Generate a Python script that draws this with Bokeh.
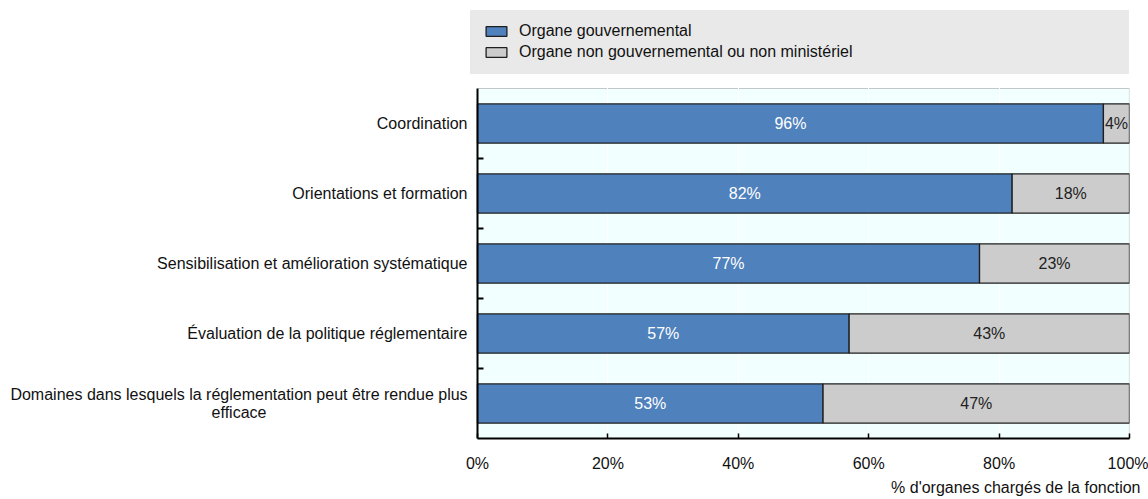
from bokeh.plotting import figure
from bokeh.models import (ColumnDataSource, FixedTicker, Legend, LegendItem, Title, Range1d,
                          LinearAxis, BoxAnnotation)
from bokeh.core.properties import value
from bokeh.embed import file_html
from bokeh.resources import INLINE

categories = [
    "Domaines dans lesquels la réglementation peut être rendue plus\nefficace",
    "Évaluation de la politique réglementaire",
    "Sensibilisation et amélioration systématique",
    "Orientations et formation",
    "Coordination",
]
gov = [53, 57, 77, 82, 96]
nongov = [47, 43, 23, 18, 4]
x_ticks = [0, 20, 40, 60, 80, 100]
x_tick_labels = ["0%", "20%", "40%", "60%", "80%", "100%"]
series_names = ["Organe gouvernemental", "Organe non gouvernemental ou non ministériel"]
x_title = "% d'organes chargés de la fonction"

FONT = "Liberation Sans"
BLUE = "#4F81BD"
GREY = "#CCCCCC"
EDGE = "#1F1F1F"
LEG_BG = "#E9E9E9"
AZURE = "#F2FFFF"
TXT = "#111111"

# layout constants (pixels)
LABEL_AREA = 477   # canvas left edge -> 0 % line
PLOT_W = 652       # 0 % line -> 100 % line
BAND_H = 70        # height of one category band
TOP_PAD = 10       # canvas top -> top of legend box
LEGEND_ZONE = 78   # top of legend box -> top of plotting area
LABEL_GAP = 10     # gap between category names and the axis
WRAP_W = 457       # width of the longest line of a wrapped category name
LEG_H = 63         # legend box height


def px(d):
    """pixels -> x-data units"""
    return d / PLOT_W * 100


n = len(categories)
ypos = [i + 0.5 for i in range(n)]
boundaries = [i for i in range(1, n)]
src = ColumnDataSource(dict(
    y=ypos,
    gov=gov,
    total=[g + v for g, v in zip(gov, nongov)],
    gov_mid=[g / 2 for g in gov],
    non_mid=[g + v / 2 for g, v in zip(gov, nongov)],
    gov_lab=[f"{g}%" for g in gov],
    non_lab=[f"{v}%" for v in nongov],
))
single = [(y, c) for y, c in zip(ypos, categories) if "\n" not in c]
wrapped = [(y, c) for y, c in zip(ypos, categories) if "\n" in c]
single_src = ColumnDataSource(dict(y=[s[0] for s in single], name=[s[1] for s in single]))
wrapped_src = ColumnDataSource(dict(y=[w[0] for w in wrapped], name=[w[1] for w in wrapped]))

# frame spans the name column and the legend zone; axes are drawn at 0 %
p = figure(width=1148, height=499, x_range=Range1d(-px(LABEL_AREA), 100),
           y_range=Range1d(0, n + LEGEND_ZONE / BAND_H),
           output_backend="svg", toolbar_location=None, y_axis_location=None,
           min_border_left=0, min_border_right=19, min_border_top=TOP_PAD, min_border_bottom=61)
p.background_fill_color = "white"
p.border_fill_color = "white"
p.outline_line_color = None

# plotting-area background with thin top/right frame
box = BoxAnnotation(left=0, right=100, top=n, fill_color=AZURE, fill_alpha=1,
                    line_color="#444444", line_width=1.2, level="underlay")
p.add_layout(box)
p.center = [box] + [r for r in p.center if r is not box]

r1 = p.hbar(y="y", left=0, right="gov", height=0.56, source=src,
            fill_color=BLUE, line_color=EDGE, line_width=1.3)
r2 = p.hbar(y="y", left="gov", right="total", height=0.56, source=src,
            fill_color=GREY, line_color=EDGE, line_width=1.3)
p.text(x="gov_mid", y="y", text="gov_lab", source=src, text_align="center", text_baseline="middle",
       text_color="white", text_font=value(FONT), text_font_size="16px")
p.text(x="non_mid", y="y", text="non_lab", source=src, text_align="center", text_baseline="middle",
       text_color="#222222", text_font=value(FONT), text_font_size="16px")

# category names
p.text(x=-px(LABEL_GAP), y="y", text="name", source=single_src, text_align="right",
       text_baseline="middle", text_color=TXT, text_font=value(FONT), text_font_size="16px")
p.text(x=-px(LABEL_GAP + WRAP_W / 2), y="y", text="name", source=wrapped_src, text_align="center",
       text_baseline="middle", text_color=TXT, text_font=value(FONT), text_font_size="16px",
       text_line_height=1.1)

xt = FixedTicker(ticks=x_ticks)
xa = p.xaxis[0]
xa.ticker = xt
xa.bounds = (0, 100)
xa.major_label_overrides = {t: l for t, l in zip(x_ticks, x_tick_labels)}
xa.major_tick_in = 5
xa.major_tick_out = 0
xa.minor_tick_line_color = None
xa.axis_line_width = 2
xa.axis_line_color = "black"
xa.major_tick_line_color = "black"
xa.major_tick_line_width = 1.5
xa.major_label_standoff = 16
xa.major_label_text_font = FONT
xa.major_label_text_font_size = "16px"
xa.major_label_text_color = TXT

# y axis drawn at 0 % with small ticks between categories
ya = LinearAxis(fixed_location=0, bounds=(0, n), ticker=FixedTicker(ticks=[], minor_ticks=boundaries),
                axis_line_width=2, axis_line_color="black",
                major_tick_line_color=None, major_label_text_font_size="0px",
                minor_tick_in=6, minor_tick_out=0, minor_tick_line_color="black",
                minor_tick_line_width=2)
p.add_layout(ya, "left")

p.ygrid.visible = False
p.xgrid[0].ticker = xt
p.xgrid.grid_line_color = "white"
p.xgrid.grid_line_width = 1

# legend box in the zone above the plotting area
legend = Legend(items=[LegendItem(label=series_names[0], renderers=[r1]),
                       LegendItem(label=series_names[1], renderers=[r2])],
                location=(LABEL_AREA - 7, n * BAND_H + LEGEND_ZONE - LEG_H - 1),
                orientation="vertical",
                background_fill_color=LEG_BG, background_fill_alpha=1,
                border_line_color=LEG_BG, border_line_width=1,
                label_text_font=FONT, label_text_font_size="16px", label_text_color=TXT,
                glyph_width=26, glyph_height=12, label_height=18, spacing=3,
                padding=12, margin=0, label_standoff=10, label_width=599)
p.add_layout(legend)

t = Title(text=x_title, align="right", text_font=FONT, text_font_size="16px",
          text_font_style="normal", text_color=TXT, offset=-11, standoff=4)
p.add_layout(t, "below")

open("out.html", "w").write(file_html(p, INLINE))
